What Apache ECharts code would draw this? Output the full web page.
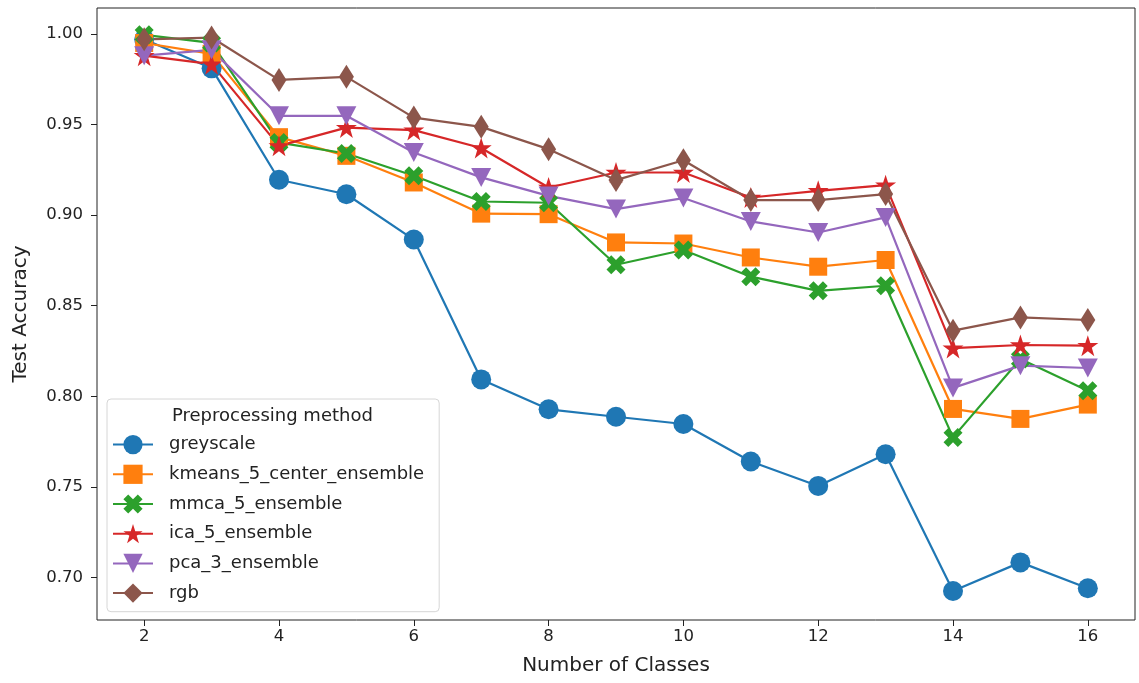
<!DOCTYPE html>
<html>
<head>
<meta charset="utf-8">
<script src="https://cdn.jsdelivr.net/npm/echarts@6/dist/echarts.min.js"></script>
<style>
  html, body { margin: 0; padding: 0; background: #fff; }
  #chart { width: 1139px; height: 683px; }
</style>
</head>
<body>
<div id="chart"></div>
<script>
const classes = [2, 3, 4, 5, 6, 7, 8, 9, 10, 11, 12, 13, 14, 15, 16]
const xTicks = [2, 4, 6, 8, 10, 12, 14, 16]
const yTicks = [0.70, 0.75, 0.80, 0.85, 0.90, 0.95, 1.00]

const greyscale = [0.997, 0.981, 0.9195, 0.9115, 0.8865, 0.8093, 0.7928, 0.7887, 0.7847, 0.764, 0.7505, 0.768, 0.6925, 0.7083, 0.694]
const kmeans5 = [0.995, 0.989, 0.943, 0.9327, 0.918, 0.9008, 0.9005, 0.8849, 0.8843, 0.8766, 0.8715, 0.8752, 0.793, 0.7875, 0.7954]
const mmca5 = [0.9995, 0.995, 0.940, 0.934, 0.9217, 0.9075, 0.9068, 0.8726, 0.8807, 0.866, 0.8582, 0.861, 0.7773, 0.8206, 0.8031]
const ica5 = [0.988, 0.9833, 0.9382, 0.9483, 0.9469, 0.937, 0.9152, 0.9235, 0.9235, 0.9097, 0.9134, 0.9165, 0.8266, 0.8283, 0.8279]
const pca3 = [0.988, 0.9912, 0.9548, 0.9548, 0.9345, 0.9208, 0.9106, 0.9033, 0.9094, 0.8965, 0.8904, 0.8987, 0.8046, 0.8169, 0.8156]
const rgb = [0.997, 0.998, 0.9746, 0.9763, 0.9538, 0.9487, 0.9364, 0.9193, 0.9303, 0.9083, 0.9083, 0.9116, 0.8362, 0.8435, 0.8421]

// marker shapes (matplotlib '*', 'X', 'v')
const STAR = 'path://M50,0 L61.8,35.4 L100,35.4 L69.1,57.3 L80.9,95.1 L50,72.4 L19.1,95.1 L30.9,57.3 L0,35.4 L38.2,35.4 Z'
const XMARK = 'path://M25,0 L50,25 L75,0 L100,25 L75,50 L100,75 L75,100 L50,75 L25,100 L0,75 L25,50 L0,25 Z'
const TRI_DOWN = 'path://M0,0 L100,0 L50,90 Z'

const font = 'DejaVu Sans'

function makeSeries(name, values, color, symbol, size) {
  return {
    name: name,
    type: 'line',
    data: classes.map((c, i) => [c, values[i]]),
    symbol: symbol,
    symbolSize: size,
    showAllSymbol: true,
    lineStyle: { color: color, width: 2.2 },
    itemStyle: { color: color },
    emphasis: { disabled: true },
    animation: false,
  }
}

const chart = echarts.init(document.getElementById('chart'))
chart.setOption({
  backgroundColor: '#fff',
  textStyle: { fontFamily: font },
  title: {
    text: 'Preprocessing method',
    left: 172,
    top: 407,
    padding: 0,
    z: 10,
    textStyle: { fontFamily: font, fontSize: 18, fontWeight: 'normal', color: '#222' },
  },
  legend: {
    orient: 'vertical',
    left: 107,
    top: 399,
    padding: [36, 15, 9, 5],
    itemWidth: 40,
    itemHeight: 24,
    itemGap: 10.5,
    backgroundColor: 'rgba(255,255,255,0.8)',
    borderColor: '#d6d6d6',
    borderWidth: 1,
    borderRadius: 4,
    textStyle: { fontFamily: font, fontSize: 18, color: '#222', padding: [0, 0, 0, 11] },
    data: ['greyscale', 'kmeans_5_center_ensemble', 'mmca_5_ensemble', 'ica_5_ensemble', 'pca_3_ensemble', 'rgb'],
  },
  grid: {
    left: 97,
    right: 4,
    top: 8,
    bottom: 63,
    show: true,
    borderColor: '#222',
    borderWidth: 1,
  },
  xAxis: {
    type: 'value',
    min: 1.3,
    max: 16.7,
    name: 'Number of Classes',
    nameLocation: 'middle',
    nameGap: 36,
    nameTextStyle: { fontFamily: font, fontSize: 20, color: '#222' },
    axisLine: { show: false },
    axisTick: { show: true, length: 6, customValues: xTicks, lineStyle: { color: '#222' } },
    axisLabel: { customValues: xTicks, margin: 8, fontSize: 16.5, color: '#222', fontFamily: font },
    splitLine: { show: false },
  },
  yAxis: {
    type: 'value',
    min: 0.6765,
    max: 1.0143,
    name: 'Test Accuracy',
    nameLocation: 'middle',
    nameGap: 66,
    nameTextStyle: { fontFamily: font, fontSize: 20, color: '#222' },
    axisLine: { show: false },
    axisTick: { show: true, length: 6, customValues: yTicks, lineStyle: { color: '#222' } },
    axisLabel: {
      customValues: yTicks,
      margin: 14,
      fontSize: 16.5,
      color: '#222',
      fontFamily: font,
      formatter: v => v.toFixed(2),
    },
    splitLine: { show: false },
  },
  series: [
    makeSeries('greyscale', greyscale, '#1f77b4', 'circle', 20),
    makeSeries('kmeans_5_center_ensemble', kmeans5, '#ff7f0e', 'rect', 18),
    makeSeries('mmca_5_ensemble', mmca5, '#2ca02c', XMARK, 19),
    makeSeries('ica_5_ensemble', ica5, '#d62728', STAR, 21),
    makeSeries('pca_3_ensemble', pca3, '#9467bd', TRI_DOWN, [20, 19]),
    makeSeries('rgb', rgb, '#8c564b', 'diamond', [15, 24]),
  ],
})
</script>
</body>
</html>
